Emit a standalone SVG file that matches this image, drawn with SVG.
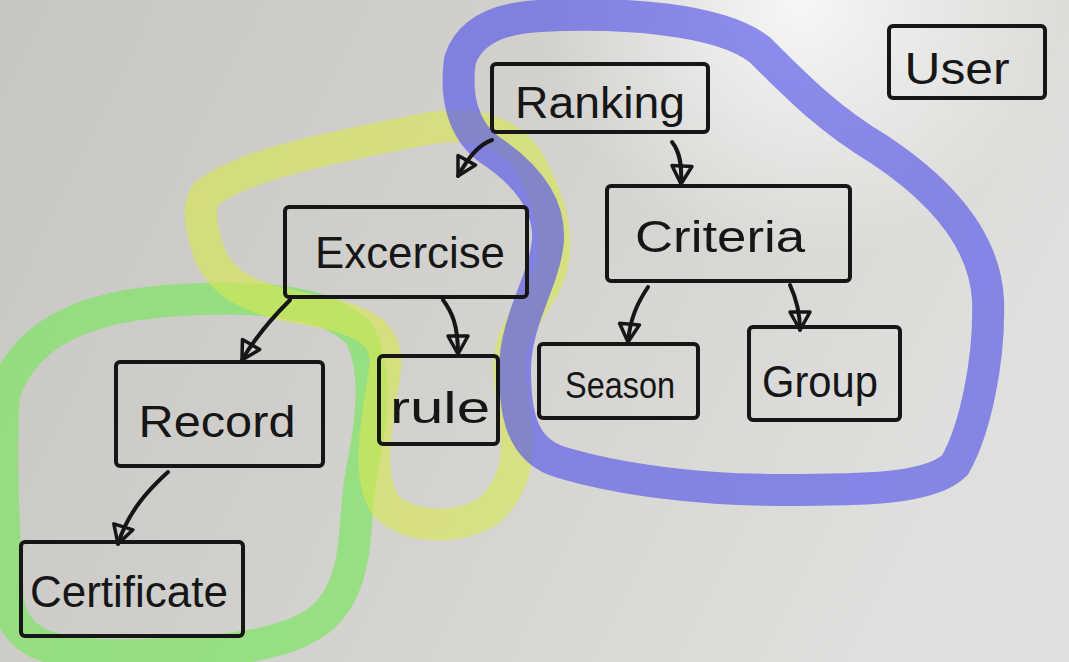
<svg xmlns="http://www.w3.org/2000/svg" width="1069" height="662" viewBox="0 0 1069 662">
<defs>
<linearGradient id="bg" x1="0" y1="0" x2="1" y2="0.3">
<stop offset="0" stop-color="#c8c6c2"/>
<stop offset="0.5" stop-color="#d2d1ce"/>
<stop offset="1" stop-color="#dfdfdd"/>
</linearGradient>
<radialGradient id="glare" cx="800" cy="0" r="260" gradientUnits="userSpaceOnUse">
<stop offset="0" stop-color="#ffffff" stop-opacity="0.8"/>
<stop offset="1" stop-color="#ffffff" stop-opacity="0"/>
</radialGradient>
<marker id="tri" viewBox="-22 -13 26 26" refX="0" refY="0" markerWidth="26" markerHeight="26" orient="auto" markerUnits="userSpaceOnUse" overflow="visible">
<path d="M-18,-10 L0,0 L-18,10 Z" fill="none" stroke="#161616" stroke-width="3.5" stroke-linejoin="round"/>
</marker>
<style>
.box{fill:none;stroke:#161616;stroke-width:4;stroke-linejoin:round}
.lbl{font-family:"Liberation Sans",Arial,sans-serif;font-size:44px;fill:#161616;text-anchor:middle}
.con{fill:none;stroke:#161616;stroke-width:4;stroke-linecap:round}
.hl{fill:none;stroke-width:32;stroke-linejoin:round;stroke-linecap:round}
</style>
</defs>
<rect width="1069" height="662" fill="url(#bg)"/>
<rect width="1069" height="662" fill="url(#glare)"/>

<g id="highlights">
<path class="hl" stroke="#78e65a" stroke-opacity="0.65" d="M4,395 C25,330 90,305 180,300 C260,296 330,300 360,335 C378,370 372,420 362,470 C352,520 362,570 330,610 C300,645 230,652 140,655 C70,657 15,652 8,600 C4,540 0,450 4,395 Z"/>
<path class="hl" stroke="#d8e650" stroke-opacity="0.62" d="M205,195 C240,165 330,148 420,130 C470,120 505,128 528,160 C550,200 565,245 545,285 C525,318 505,340 510,380 C515,430 530,470 490,510 C460,530 410,530 385,505 C365,470 378,420 385,370 C390,330 360,318 300,308 C255,300 220,285 208,250 C200,225 198,208 205,195 Z"/>
<path class="hl" stroke="#5a5ce8" stroke-opacity="0.68" d="M460,60 C470,30 500,18 540,16 C620,12 720,18 760,50 C800,90 830,120 880,150 C940,190 985,240 988,300 C990,360 975,430 955,465 C930,490 860,490 780,490 C700,490 620,480 560,462 C520,450 515,410 515,370 C515,320 545,280 548,240 C550,200 520,170 490,150 C462,130 455,95 460,60 Z"/>
</g>

<g id="connectors">
<path class="con" marker-end="url(#tri)" d="M492,140 C478,145 468,158 458,176"/>
<path class="con" marker-end="url(#tri)" d="M672,142 C680,152 682,165 681,184"/>
<path class="con" marker-end="url(#tri)" d="M290,300 C272,318 256,336 242,360"/>
<path class="con" marker-end="url(#tri)" d="M443,300 C452,312 458,325 458,354"/>
<path class="con" marker-end="url(#tri)" d="M648,287 C638,302 630,318 628,342"/>
<path class="con" marker-end="url(#tri)" d="M790,285 C796,298 800,312 800,330"/>
<path class="con" marker-end="url(#tri)" d="M168,472 C148,490 128,512 118,544"/>
</g>

<g id="node-ranking">
<rect class="box" x="492" y="64" width="216" height="68" rx="4"/>
<text class="lbl" x="600" y="118" textLength="170" lengthAdjust="spacingAndGlyphs">Ranking</text>
</g>
<g id="node-user">
<rect class="box" x="889" y="26" width="156" height="72" rx="4"/>
<text class="lbl" x="957" y="84" textLength="105" lengthAdjust="spacingAndGlyphs">User</text>
</g>
<g id="node-excercise">
<rect class="box" x="285" y="207" width="242" height="90" rx="4"/>
<text class="lbl" x="410" y="268" textLength="190" lengthAdjust="spacingAndGlyphs">Excercise</text>
</g>
<g id="node-criteria">
<rect class="box" x="607" y="186" width="243" height="95" rx="4"/>
<text class="lbl" x="720" y="252" textLength="170" lengthAdjust="spacingAndGlyphs">Criteria</text>
</g>
<g id="node-season">
<rect class="box" x="539" y="344" width="159" height="74" rx="4"/>
<text class="lbl" x="620" y="398" style="font-size:36px" textLength="110" lengthAdjust="spacingAndGlyphs">Season</text>
</g>
<g id="node-group">
<rect class="box" x="749" y="327" width="151" height="93" rx="4"/>
<text class="lbl" x="820" y="397" textLength="116" lengthAdjust="spacingAndGlyphs">Group</text>
</g>
<g id="node-rule">
<rect class="box" x="379" y="356" width="119" height="88" rx="4"/>
<text class="lbl" x="440" y="423" textLength="100" lengthAdjust="spacingAndGlyphs">rule</text>
</g>
<g id="node-record">
<rect class="box" x="116" y="362" width="207" height="104" rx="4"/>
<text class="lbl" x="217" y="437" textLength="157" lengthAdjust="spacingAndGlyphs">Record</text>
</g>
<g id="node-certificate">
<rect class="box" x="21" y="542" width="222" height="94" rx="4"/>
<text class="lbl" x="129" y="607" textLength="198" lengthAdjust="spacingAndGlyphs">Certificate</text>
</g>
</svg>
